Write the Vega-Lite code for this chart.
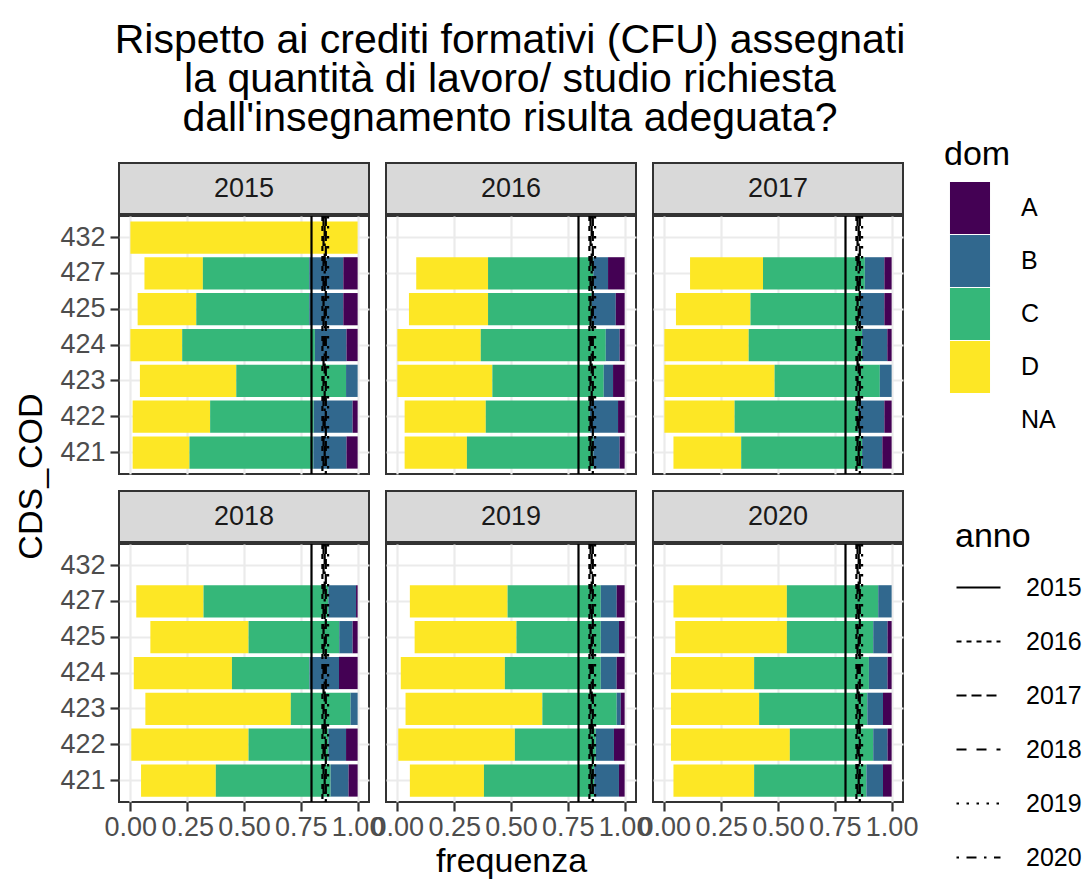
{
  "$schema": "https://vega.github.io/schema/vega-lite/v6.json",
  "padding": {"left": 14, "top": 20, "right": 3, "bottom": 0},
  "title": {
    "text": ["Rispetto ai crediti formativi (CFU) assegnati", "la quantità di lavoro/ studio richiesta", "dall'insegnamento risulta adeguata?"],
    "fontSize": 41, "fontWeight": "normal", "color": "black", "anchor": "start", "align": "center", "dx": 496, "frame": "group", "lineHeight": 39, "offset": -2
  },
  "datasets": {
    "soglie": [
      {"anno": "2015", "soglia": 0.797},
      {"anno": "2016", "soglia": 0.845},
      {"anno": "2017", "soglia": 0.86},
      {"anno": "2018", "soglia": 0.85},
      {"anno": "2019", "soglia": 0.87},
      {"anno": "2020", "soglia": 0.855}
    ],
    "bars": [
      {"anno": "2015", "CDS_COD": "432", "dom": "D", "frequenza": 1.0},
      {"anno": "2015", "CDS_COD": "427", "dom": "NA", "frequenza": 0.062},
      {"anno": "2015", "CDS_COD": "427", "dom": "D", "frequenza": 0.257},
      {"anno": "2015", "CDS_COD": "427", "dom": "C", "frequenza": 0.468},
      {"anno": "2015", "CDS_COD": "427", "dom": "B", "frequenza": 0.150},
      {"anno": "2015", "CDS_COD": "427", "dom": "A", "frequenza": 0.063},
      {"anno": "2015", "CDS_COD": "425", "dom": "NA", "frequenza": 0.032},
      {"anno": "2015", "CDS_COD": "425", "dom": "D", "frequenza": 0.258},
      {"anno": "2015", "CDS_COD": "425", "dom": "C", "frequenza": 0.497},
      {"anno": "2015", "CDS_COD": "425", "dom": "B", "frequenza": 0.150},
      {"anno": "2015", "CDS_COD": "425", "dom": "A", "frequenza": 0.063},
      {"anno": "2015", "CDS_COD": "424", "dom": "D", "frequenza": 0.228},
      {"anno": "2015", "CDS_COD": "424", "dom": "C", "frequenza": 0.584},
      {"anno": "2015", "CDS_COD": "424", "dom": "B", "frequenza": 0.139},
      {"anno": "2015", "CDS_COD": "424", "dom": "A", "frequenza": 0.049},
      {"anno": "2015", "CDS_COD": "423", "dom": "NA", "frequenza": 0.042},
      {"anno": "2015", "CDS_COD": "423", "dom": "D", "frequenza": 0.424},
      {"anno": "2015", "CDS_COD": "423", "dom": "C", "frequenza": 0.483},
      {"anno": "2015", "CDS_COD": "423", "dom": "B", "frequenza": 0.051},
      {"anno": "2015", "CDS_COD": "422", "dom": "NA", "frequenza": 0.010},
      {"anno": "2015", "CDS_COD": "422", "dom": "D", "frequenza": 0.341},
      {"anno": "2015", "CDS_COD": "422", "dom": "C", "frequenza": 0.456},
      {"anno": "2015", "CDS_COD": "422", "dom": "B", "frequenza": 0.171},
      {"anno": "2015", "CDS_COD": "422", "dom": "A", "frequenza": 0.022},
      {"anno": "2015", "CDS_COD": "421", "dom": "NA", "frequenza": 0.010},
      {"anno": "2015", "CDS_COD": "421", "dom": "D", "frequenza": 0.250},
      {"anno": "2015", "CDS_COD": "421", "dom": "C", "frequenza": 0.545},
      {"anno": "2015", "CDS_COD": "421", "dom": "B", "frequenza": 0.146},
      {"anno": "2015", "CDS_COD": "421", "dom": "A", "frequenza": 0.049},

      {"anno": "2016", "CDS_COD": "427", "dom": "NA", "frequenza": 0.083},
      {"anno": "2016", "CDS_COD": "427", "dom": "D", "frequenza": 0.316},
      {"anno": "2016", "CDS_COD": "427", "dom": "C", "frequenza": 0.463},
      {"anno": "2016", "CDS_COD": "427", "dom": "B", "frequenza": 0.065},
      {"anno": "2016", "CDS_COD": "427", "dom": "A", "frequenza": 0.073},
      {"anno": "2016", "CDS_COD": "425", "dom": "NA", "frequenza": 0.051},
      {"anno": "2016", "CDS_COD": "425", "dom": "D", "frequenza": 0.348},
      {"anno": "2016", "CDS_COD": "425", "dom": "C", "frequenza": 0.456},
      {"anno": "2016", "CDS_COD": "425", "dom": "B", "frequenza": 0.106},
      {"anno": "2016", "CDS_COD": "425", "dom": "A", "frequenza": 0.039},
      {"anno": "2016", "CDS_COD": "424", "dom": "D", "frequenza": 0.367},
      {"anno": "2016", "CDS_COD": "424", "dom": "C", "frequenza": 0.550},
      {"anno": "2016", "CDS_COD": "424", "dom": "B", "frequenza": 0.061},
      {"anno": "2016", "CDS_COD": "424", "dom": "A", "frequenza": 0.022},
      {"anno": "2016", "CDS_COD": "423", "dom": "D", "frequenza": 0.418},
      {"anno": "2016", "CDS_COD": "423", "dom": "C", "frequenza": 0.490},
      {"anno": "2016", "CDS_COD": "423", "dom": "B", "frequenza": 0.041},
      {"anno": "2016", "CDS_COD": "423", "dom": "A", "frequenza": 0.051},
      {"anno": "2016", "CDS_COD": "422", "dom": "NA", "frequenza": 0.032},
      {"anno": "2016", "CDS_COD": "422", "dom": "D", "frequenza": 0.357},
      {"anno": "2016", "CDS_COD": "422", "dom": "C", "frequenza": 0.458},
      {"anno": "2016", "CDS_COD": "422", "dom": "B", "frequenza": 0.124},
      {"anno": "2016", "CDS_COD": "422", "dom": "A", "frequenza": 0.029},
      {"anno": "2016", "CDS_COD": "421", "dom": "NA", "frequenza": 0.032},
      {"anno": "2016", "CDS_COD": "421", "dom": "D", "frequenza": 0.274},
      {"anno": "2016", "CDS_COD": "421", "dom": "C", "frequenza": 0.556},
      {"anno": "2016", "CDS_COD": "421", "dom": "B", "frequenza": 0.116},
      {"anno": "2016", "CDS_COD": "421", "dom": "A", "frequenza": 0.022},

      {"anno": "2017", "CDS_COD": "427", "dom": "NA", "frequenza": 0.113},
      {"anno": "2017", "CDS_COD": "427", "dom": "D", "frequenza": 0.321},
      {"anno": "2017", "CDS_COD": "427", "dom": "C", "frequenza": 0.448},
      {"anno": "2017", "CDS_COD": "427", "dom": "B", "frequenza": 0.086},
      {"anno": "2017", "CDS_COD": "427", "dom": "A", "frequenza": 0.032},
      {"anno": "2017", "CDS_COD": "425", "dom": "NA", "frequenza": 0.051},
      {"anno": "2017", "CDS_COD": "425", "dom": "D", "frequenza": 0.328},
      {"anno": "2017", "CDS_COD": "425", "dom": "C", "frequenza": 0.481},
      {"anno": "2017", "CDS_COD": "425", "dom": "B", "frequenza": 0.108},
      {"anno": "2017", "CDS_COD": "425", "dom": "A", "frequenza": 0.032},
      {"anno": "2017", "CDS_COD": "424", "dom": "D", "frequenza": 0.371},
      {"anno": "2017", "CDS_COD": "424", "dom": "C", "frequenza": 0.499},
      {"anno": "2017", "CDS_COD": "424", "dom": "B", "frequenza": 0.111},
      {"anno": "2017", "CDS_COD": "424", "dom": "A", "frequenza": 0.019},
      {"anno": "2017", "CDS_COD": "423", "dom": "D", "frequenza": 0.485},
      {"anno": "2017", "CDS_COD": "423", "dom": "C", "frequenza": 0.463},
      {"anno": "2017", "CDS_COD": "423", "dom": "B", "frequenza": 0.052},
      {"anno": "2017", "CDS_COD": "422", "dom": "D", "frequenza": 0.309},
      {"anno": "2017", "CDS_COD": "422", "dom": "C", "frequenza": 0.544},
      {"anno": "2017", "CDS_COD": "422", "dom": "B", "frequenza": 0.115},
      {"anno": "2017", "CDS_COD": "422", "dom": "A", "frequenza": 0.032},
      {"anno": "2017", "CDS_COD": "421", "dom": "NA", "frequenza": 0.040},
      {"anno": "2017", "CDS_COD": "421", "dom": "D", "frequenza": 0.298},
      {"anno": "2017", "CDS_COD": "421", "dom": "C", "frequenza": 0.532},
      {"anno": "2017", "CDS_COD": "421", "dom": "B", "frequenza": 0.089},
      {"anno": "2017", "CDS_COD": "421", "dom": "A", "frequenza": 0.041},

      {"anno": "2018", "CDS_COD": "427", "dom": "NA", "frequenza": 0.026},
      {"anno": "2018", "CDS_COD": "427", "dom": "D", "frequenza": 0.296},
      {"anno": "2018", "CDS_COD": "427", "dom": "C", "frequenza": 0.549},
      {"anno": "2018", "CDS_COD": "427", "dom": "B", "frequenza": 0.122},
      {"anno": "2018", "CDS_COD": "427", "dom": "A", "frequenza": 0.007},
      {"anno": "2018", "CDS_COD": "425", "dom": "NA", "frequenza": 0.088},
      {"anno": "2018", "CDS_COD": "425", "dom": "D", "frequenza": 0.432},
      {"anno": "2018", "CDS_COD": "425", "dom": "C", "frequenza": 0.399},
      {"anno": "2018", "CDS_COD": "425", "dom": "B", "frequenza": 0.059},
      {"anno": "2018", "CDS_COD": "425", "dom": "A", "frequenza": 0.022},
      {"anno": "2018", "CDS_COD": "424", "dom": "NA", "frequenza": 0.015},
      {"anno": "2018", "CDS_COD": "424", "dom": "D", "frequenza": 0.432},
      {"anno": "2018", "CDS_COD": "424", "dom": "C", "frequenza": 0.341},
      {"anno": "2018", "CDS_COD": "424", "dom": "B", "frequenza": 0.130},
      {"anno": "2018", "CDS_COD": "424", "dom": "A", "frequenza": 0.082},
      {"anno": "2018", "CDS_COD": "423", "dom": "NA", "frequenza": 0.066},
      {"anno": "2018", "CDS_COD": "423", "dom": "D", "frequenza": 0.640},
      {"anno": "2018", "CDS_COD": "423", "dom": "C", "frequenza": 0.263},
      {"anno": "2018", "CDS_COD": "423", "dom": "B", "frequenza": 0.031},
      {"anno": "2018", "CDS_COD": "422", "dom": "NA", "frequenza": 0.004},
      {"anno": "2018", "CDS_COD": "422", "dom": "D", "frequenza": 0.516},
      {"anno": "2018", "CDS_COD": "422", "dom": "C", "frequenza": 0.351},
      {"anno": "2018", "CDS_COD": "422", "dom": "B", "frequenza": 0.078},
      {"anno": "2018", "CDS_COD": "422", "dom": "A", "frequenza": 0.051},
      {"anno": "2018", "CDS_COD": "421", "dom": "NA", "frequenza": 0.047},
      {"anno": "2018", "CDS_COD": "421", "dom": "D", "frequenza": 0.329},
      {"anno": "2018", "CDS_COD": "421", "dom": "C", "frequenza": 0.505},
      {"anno": "2018", "CDS_COD": "421", "dom": "B", "frequenza": 0.079},
      {"anno": "2018", "CDS_COD": "421", "dom": "A", "frequenza": 0.040},

      {"anno": "2019", "CDS_COD": "427", "dom": "NA", "frequenza": 0.055},
      {"anno": "2019", "CDS_COD": "427", "dom": "D", "frequenza": 0.430},
      {"anno": "2019", "CDS_COD": "427", "dom": "C", "frequenza": 0.410},
      {"anno": "2019", "CDS_COD": "427", "dom": "B", "frequenza": 0.070},
      {"anno": "2019", "CDS_COD": "427", "dom": "A", "frequenza": 0.035},
      {"anno": "2019", "CDS_COD": "425", "dom": "NA", "frequenza": 0.076},
      {"anno": "2019", "CDS_COD": "425", "dom": "D", "frequenza": 0.448},
      {"anno": "2019", "CDS_COD": "425", "dom": "C", "frequenza": 0.371},
      {"anno": "2019", "CDS_COD": "425", "dom": "B", "frequenza": 0.080},
      {"anno": "2019", "CDS_COD": "425", "dom": "A", "frequenza": 0.025},
      {"anno": "2019", "CDS_COD": "424", "dom": "NA", "frequenza": 0.015},
      {"anno": "2019", "CDS_COD": "424", "dom": "D", "frequenza": 0.458},
      {"anno": "2019", "CDS_COD": "424", "dom": "C", "frequenza": 0.422},
      {"anno": "2019", "CDS_COD": "424", "dom": "B", "frequenza": 0.070},
      {"anno": "2019", "CDS_COD": "424", "dom": "A", "frequenza": 0.035},
      {"anno": "2019", "CDS_COD": "423", "dom": "NA", "frequenza": 0.036},
      {"anno": "2019", "CDS_COD": "423", "dom": "D", "frequenza": 0.602},
      {"anno": "2019", "CDS_COD": "423", "dom": "C", "frequenza": 0.327},
      {"anno": "2019", "CDS_COD": "423", "dom": "B", "frequenza": 0.018},
      {"anno": "2019", "CDS_COD": "423", "dom": "A", "frequenza": 0.017},
      {"anno": "2019", "CDS_COD": "422", "dom": "NA", "frequenza": 0.004},
      {"anno": "2019", "CDS_COD": "422", "dom": "D", "frequenza": 0.513},
      {"anno": "2019", "CDS_COD": "422", "dom": "C", "frequenza": 0.356},
      {"anno": "2019", "CDS_COD": "422", "dom": "B", "frequenza": 0.080},
      {"anno": "2019", "CDS_COD": "422", "dom": "A", "frequenza": 0.047},
      {"anno": "2019", "CDS_COD": "421", "dom": "NA", "frequenza": 0.055},
      {"anno": "2019", "CDS_COD": "421", "dom": "D", "frequenza": 0.326},
      {"anno": "2019", "CDS_COD": "421", "dom": "C", "frequenza": 0.485},
      {"anno": "2019", "CDS_COD": "421", "dom": "B", "frequenza": 0.109},
      {"anno": "2019", "CDS_COD": "421", "dom": "A", "frequenza": 0.025},

      {"anno": "2020", "CDS_COD": "427", "dom": "NA", "frequenza": 0.040},
      {"anno": "2020", "CDS_COD": "427", "dom": "D", "frequenza": 0.499},
      {"anno": "2020", "CDS_COD": "427", "dom": "C", "frequenza": 0.402},
      {"anno": "2020", "CDS_COD": "427", "dom": "B", "frequenza": 0.059},
      {"anno": "2020", "CDS_COD": "425", "dom": "NA", "frequenza": 0.048},
      {"anno": "2020", "CDS_COD": "425", "dom": "D", "frequenza": 0.491},
      {"anno": "2020", "CDS_COD": "425", "dom": "C", "frequenza": 0.380},
      {"anno": "2020", "CDS_COD": "425", "dom": "B", "frequenza": 0.063},
      {"anno": "2020", "CDS_COD": "425", "dom": "A", "frequenza": 0.018},
      {"anno": "2020", "CDS_COD": "424", "dom": "NA", "frequenza": 0.029},
      {"anno": "2020", "CDS_COD": "424", "dom": "D", "frequenza": 0.366},
      {"anno": "2020", "CDS_COD": "424", "dom": "C", "frequenza": 0.505},
      {"anno": "2020", "CDS_COD": "424", "dom": "B", "frequenza": 0.082},
      {"anno": "2020", "CDS_COD": "424", "dom": "A", "frequenza": 0.018},
      {"anno": "2020", "CDS_COD": "423", "dom": "NA", "frequenza": 0.029},
      {"anno": "2020", "CDS_COD": "423", "dom": "D", "frequenza": 0.388},
      {"anno": "2020", "CDS_COD": "423", "dom": "C", "frequenza": 0.476},
      {"anno": "2020", "CDS_COD": "423", "dom": "B", "frequenza": 0.069},
      {"anno": "2020", "CDS_COD": "423", "dom": "A", "frequenza": 0.038},
      {"anno": "2020", "CDS_COD": "422", "dom": "NA", "frequenza": 0.029},
      {"anno": "2020", "CDS_COD": "422", "dom": "D", "frequenza": 0.523},
      {"anno": "2020", "CDS_COD": "422", "dom": "C", "frequenza": 0.367},
      {"anno": "2020", "CDS_COD": "422", "dom": "B", "frequenza": 0.063},
      {"anno": "2020", "CDS_COD": "422", "dom": "A", "frequenza": 0.018},
      {"anno": "2020", "CDS_COD": "421", "dom": "NA", "frequenza": 0.040},
      {"anno": "2020", "CDS_COD": "421", "dom": "D", "frequenza": 0.355},
      {"anno": "2020", "CDS_COD": "421", "dom": "C", "frequenza": 0.494},
      {"anno": "2020", "CDS_COD": "421", "dom": "B", "frequenza": 0.073},
      {"anno": "2020", "CDS_COD": "421", "dom": "A", "frequenza": 0.038}
    ]
  },
  "spacing": 8,
  "hconcat": [
    {"width": 36, "height": 627, "view": {"stroke": null},
     "data": {"values": [{"titolo": "CDS_COD"}]},
     "mark": {"type": "text", "angle": 270, "fontSize": 34, "color": "black"},
     "encoding": {"text": {"field": "titolo"}}},
    {
  "spacing": 13,
  "vconcat": [
    {
      "spacing": -2,
      "vconcat": [
        {"bounds": "flush", "spacing": 17, "hconcat": [
          {"width": 250, "height": 51, "view": {"fill": "#d9d9d9", "stroke": "#333333", "strokeWidth": 2},
           "data": {"name": "soglie"}, "transform": [{"filter": "datum.anno == '2015'"}],
           "mark": {"type": "text", "fontSize": 27, "color": "#1a1a1a"}, "encoding": {"text": {"field": "anno"}}},
          {"width": 250, "height": 51, "view": {"fill": "#d9d9d9", "stroke": "#333333", "strokeWidth": 2},
           "data": {"name": "soglie"}, "transform": [{"filter": "datum.anno == '2016'"}],
           "mark": {"type": "text", "fontSize": 27, "color": "#1a1a1a"}, "encoding": {"text": {"field": "anno"}}},
          {"width": 250, "height": 51, "view": {"fill": "#d9d9d9", "stroke": "#333333", "strokeWidth": 2},
           "data": {"name": "soglie"}, "transform": [{"filter": "datum.anno == '2017'"}],
           "mark": {"type": "text", "fontSize": 27, "color": "#1a1a1a"}, "encoding": {"text": {"field": "anno"}}}
        ]},
        {"bounds": "flush", "spacing": 17, "hconcat": [
            {"width": 250, "height": 258,
             "layer": [
               {"data": {"name": "bars"}, "transform": [{"filter": "datum.anno == '2015'"}],
                "mark": {"type": "bar"},
                "encoding": {
                  "y": {"field": "CDS_COD", "type": "nominal", "scale": {"domain": ["432","427","425","424","423","422","421"], "paddingInner": 0.1, "paddingOuter": 0.15},
                        "axis": {"title": null, "bandPosition": 0.5, "grid": true, "gridWidth": 2.2, "labelPadding": 5}},
                  "x": {"field": "frequenza", "type": "quantitative", "stack": "zero", "scale": {"domain": [-0.05, 1.05], "nice": false, "zero": false},
                        "axis": {"title": null, "values": [0,0.125,0.25,0.375,0.5,0.625,0.75,0.875,1], "labels": false, "ticks": false, "grid": true,
                                 "gridWidth": {"condition": {"test": "round(datum.value*8)%2==0", "value": 2.2}, "value": 1.1}}},
                  "fill": {"field": "dom", "type": "nominal", "scale": {"domain": ["A","B","C","D","NA"], "range": ["#440154","#31688e","#35b779","#fde725","transparent"]},
                           "legend": {"title": "dom", "orient": "none", "legendX": 930, "legendY": -25, "symbolType": "M-0.77,-1H0.77V1H-0.77Z", "symbolSize": 2704, "symbolStrokeWidth": 0, "rowPadding": 1, "labelOffset": 25, "titlePadding": 10}},
                  "order": {"field": "dom", "sort": "descending"}
                }},
               {"data": {"name": "soglie"}, "mark": {"type": "rule", "color": "black", "strokeWidth": 2.2},
                "encoding": {
                  "x": {"field": "soglia", "type": "quantitative"},
                  "strokeDash": {"field": "anno", "type": "nominal", "scale": {"domain": ["2015","2016","2017","2018","2019","2020"], "range": [[1,0],[5,5],[10,5],[10,10],[2.5,7.5],[2.5,7.5,10,7.5]]},
                                 "legend": {"title": "anno", "orient": "none", "legendX": 941, "legendY": 357, "symbolType": "stroke", "symbolSize": 1936, "symbolStrokeWidth": 2.2, "symbolStrokeColor": "black", "rowPadding": 17, "labelOffset": 24, "titlePadding": 10}}
                }}
             ]},
            {"width": 250, "height": 258,
             "layer": [
               {"data": {"name": "bars"}, "transform": [{"filter": "datum.anno == '2016'"}],
                "mark": {"type": "bar"},
                "encoding": {
                  "y": {"field": "CDS_COD", "type": "nominal", "scale": {"domain": ["432","427","425","424","423","422","421"], "paddingInner": 0.1, "paddingOuter": 0.15},
                        "axis": {"title": null, "bandPosition": 0.5, "grid": true, "gridWidth": 2.2, "labels": false, "ticks": false}},
                  "x": {"field": "frequenza", "type": "quantitative", "stack": "zero", "scale": {"domain": [-0.05, 1.05], "nice": false, "zero": false},
                        "axis": {"title": null, "values": [0,0.125,0.25,0.375,0.5,0.625,0.75,0.875,1], "labels": false, "ticks": false, "grid": true,
                                 "gridWidth": {"condition": {"test": "round(datum.value*8)%2==0", "value": 2.2}, "value": 1.1}}},
                  "fill": {"field": "dom", "type": "nominal", "scale": {"domain": ["A","B","C","D","NA"], "range": ["#440154","#31688e","#35b779","#fde725","transparent"]},
                           "legend": {"title": "dom", "orient": "none", "legendX": 930, "legendY": -25, "symbolType": "M-0.77,-1H0.77V1H-0.77Z", "symbolSize": 2704, "symbolStrokeWidth": 0, "rowPadding": 1, "labelOffset": 25, "titlePadding": 10}},
                  "order": {"field": "dom", "sort": "descending"}
                }},
               {"data": {"name": "soglie"}, "mark": {"type": "rule", "color": "black", "strokeWidth": 2.2},
                "encoding": {
                  "x": {"field": "soglia", "type": "quantitative"},
                  "strokeDash": {"field": "anno", "type": "nominal", "scale": {"domain": ["2015","2016","2017","2018","2019","2020"], "range": [[1,0],[5,5],[10,5],[10,10],[2.5,7.5],[2.5,7.5,10,7.5]]},
                                 "legend": {"title": "anno", "orient": "none", "legendX": 941, "legendY": 357, "symbolType": "stroke", "symbolSize": 1936, "symbolStrokeWidth": 2.2, "symbolStrokeColor": "black", "rowPadding": 17, "labelOffset": 24, "titlePadding": 10}}
                }}
             ]},
            {"width": 250, "height": 258,
             "layer": [
               {"data": {"name": "bars"}, "transform": [{"filter": "datum.anno == '2017'"}],
                "mark": {"type": "bar"},
                "encoding": {
                  "y": {"field": "CDS_COD", "type": "nominal", "scale": {"domain": ["432","427","425","424","423","422","421"], "paddingInner": 0.1, "paddingOuter": 0.15},
                        "axis": {"title": null, "bandPosition": 0.5, "grid": true, "gridWidth": 2.2, "labels": false, "ticks": false}},
                  "x": {"field": "frequenza", "type": "quantitative", "stack": "zero", "scale": {"domain": [-0.05, 1.05], "nice": false, "zero": false},
                        "axis": {"title": null, "values": [0,0.125,0.25,0.375,0.5,0.625,0.75,0.875,1], "labels": false, "ticks": false, "grid": true,
                                 "gridWidth": {"condition": {"test": "round(datum.value*8)%2==0", "value": 2.2}, "value": 1.1}}},
                  "fill": {"field": "dom", "type": "nominal", "scale": {"domain": ["A","B","C","D","NA"], "range": ["#440154","#31688e","#35b779","#fde725","transparent"]},
                           "legend": {"title": "dom", "orient": "none", "legendX": 930, "legendY": -25, "symbolType": "M-0.77,-1H0.77V1H-0.77Z", "symbolSize": 2704, "symbolStrokeWidth": 0, "rowPadding": 1, "labelOffset": 25, "titlePadding": 10}},
                  "order": {"field": "dom", "sort": "descending"}
                }},
               {"data": {"name": "soglie"}, "mark": {"type": "rule", "color": "black", "strokeWidth": 2.2},
                "encoding": {
                  "x": {"field": "soglia", "type": "quantitative"},
                  "strokeDash": {"field": "anno", "type": "nominal", "scale": {"domain": ["2015","2016","2017","2018","2019","2020"], "range": [[1,0],[5,5],[10,5],[10,10],[2.5,7.5],[2.5,7.5,10,7.5]]},
                                 "legend": {"title": "anno", "orient": "none", "legendX": 941, "legendY": 357, "symbolType": "stroke", "symbolSize": 1936, "symbolStrokeWidth": 2.2, "symbolStrokeColor": "black", "rowPadding": 17, "labelOffset": 24, "titlePadding": 10}}
                }}
             ]}
        ]}
      ]
    },
    {
      "spacing": -2,
      "vconcat": [
        {"bounds": "flush", "spacing": 17, "hconcat": [
          {"width": 250, "height": 51, "view": {"fill": "#d9d9d9", "stroke": "#333333", "strokeWidth": 2},
           "data": {"name": "soglie"}, "transform": [{"filter": "datum.anno == '2018'"}],
           "mark": {"type": "text", "fontSize": 27, "color": "#1a1a1a"}, "encoding": {"text": {"field": "anno"}}},
          {"width": 250, "height": 51, "view": {"fill": "#d9d9d9", "stroke": "#333333", "strokeWidth": 2},
           "data": {"name": "soglie"}, "transform": [{"filter": "datum.anno == '2019'"}],
           "mark": {"type": "text", "fontSize": 27, "color": "#1a1a1a"}, "encoding": {"text": {"field": "anno"}}},
          {"width": 250, "height": 51, "view": {"fill": "#d9d9d9", "stroke": "#333333", "strokeWidth": 2},
           "data": {"name": "soglie"}, "transform": [{"filter": "datum.anno == '2020'"}],
           "mark": {"type": "text", "fontSize": 27, "color": "#1a1a1a"}, "encoding": {"text": {"field": "anno"}}}
        ]},
        {"bounds": "flush", "spacing": 17, "hconcat": [
            {"width": 250, "height": 258,
             "layer": [
               {"data": {"name": "bars"}, "transform": [{"filter": "datum.anno == '2018'"}],
                "mark": {"type": "bar"},
                "encoding": {
                  "y": {"field": "CDS_COD", "type": "nominal", "scale": {"domain": ["432","427","425","424","423","422","421"], "paddingInner": 0.1, "paddingOuter": 0.15},
                        "axis": {"title": null, "bandPosition": 0.5, "grid": true, "gridWidth": 2.2, "labelPadding": 5}},
                  "x": {"field": "frequenza", "type": "quantitative", "stack": "zero", "scale": {"domain": [-0.05, 1.05], "nice": false, "zero": false},
                        "axis": {"title": null, "values": [0,0.125,0.25,0.375,0.5,0.625,0.75,0.875,1], "grid": true, "labelOverlap": false, "labelFlush": false, "labelPadding": 3,
                                 "labelExpr": "round(datum.value*8)%2==0 ? format(datum.value, '.2f') : ''",
                                 "tickOpacity": {"condition": {"test": "round(datum.value*8)%2==0", "value": 1}, "value": 0},
                                 "gridWidth": {"condition": {"test": "round(datum.value*8)%2==0", "value": 2.2}, "value": 1.1}}},
                  "fill": {"field": "dom", "type": "nominal", "scale": {"domain": ["A","B","C","D","NA"], "range": ["#440154","#31688e","#35b779","#fde725","transparent"]},
                           "legend": {"title": "dom", "orient": "none", "legendX": 930, "legendY": -25, "symbolType": "M-0.77,-1H0.77V1H-0.77Z", "symbolSize": 2704, "symbolStrokeWidth": 0, "rowPadding": 1, "labelOffset": 25, "titlePadding": 10}},
                  "order": {"field": "dom", "sort": "descending"}
                }},
               {"data": {"name": "soglie"}, "mark": {"type": "rule", "color": "black", "strokeWidth": 2.2},
                "encoding": {
                  "x": {"field": "soglia", "type": "quantitative"},
                  "strokeDash": {"field": "anno", "type": "nominal", "scale": {"domain": ["2015","2016","2017","2018","2019","2020"], "range": [[1,0],[5,5],[10,5],[10,10],[2.5,7.5],[2.5,7.5,10,7.5]]},
                                 "legend": {"title": "anno", "orient": "none", "legendX": 941, "legendY": 357, "symbolType": "stroke", "symbolSize": 1936, "symbolStrokeWidth": 2.2, "symbolStrokeColor": "black", "rowPadding": 17, "labelOffset": 24, "titlePadding": 10}}
                }}
             ]},
            {"width": 250, "height": 258,
             "layer": [
               {"data": {"name": "bars"}, "transform": [{"filter": "datum.anno == '2019'"}],
                "mark": {"type": "bar"},
                "encoding": {
                  "y": {"field": "CDS_COD", "type": "nominal", "scale": {"domain": ["432","427","425","424","423","422","421"], "paddingInner": 0.1, "paddingOuter": 0.15},
                        "axis": {"title": null, "bandPosition": 0.5, "grid": true, "gridWidth": 2.2, "labels": false, "ticks": false}},
                  "x": {"field": "frequenza", "type": "quantitative", "stack": "zero", "scale": {"domain": [-0.05, 1.05], "nice": false, "zero": false},
                        "axis": {"title": "frequenza", "titlePadding": 4, "values": [0,0.125,0.25,0.375,0.5,0.625,0.75,0.875,1], "grid": true, "labelOverlap": false, "labelFlush": false, "labelPadding": 3,
                                 "labelExpr": "round(datum.value*8)%2==0 ? format(datum.value, '.2f') : ''",
                                 "tickOpacity": {"condition": {"test": "round(datum.value*8)%2==0", "value": 1}, "value": 0},
                                 "gridWidth": {"condition": {"test": "round(datum.value*8)%2==0", "value": 2.2}, "value": 1.1}}},
                  "fill": {"field": "dom", "type": "nominal", "scale": {"domain": ["A","B","C","D","NA"], "range": ["#440154","#31688e","#35b779","#fde725","transparent"]},
                           "legend": {"title": "dom", "orient": "none", "legendX": 930, "legendY": -25, "symbolType": "M-0.77,-1H0.77V1H-0.77Z", "symbolSize": 2704, "symbolStrokeWidth": 0, "rowPadding": 1, "labelOffset": 25, "titlePadding": 10}},
                  "order": {"field": "dom", "sort": "descending"}
                }},
               {"data": {"name": "soglie"}, "mark": {"type": "rule", "color": "black", "strokeWidth": 2.2},
                "encoding": {
                  "x": {"field": "soglia", "type": "quantitative"},
                  "strokeDash": {"field": "anno", "type": "nominal", "scale": {"domain": ["2015","2016","2017","2018","2019","2020"], "range": [[1,0],[5,5],[10,5],[10,10],[2.5,7.5],[2.5,7.5,10,7.5]]},
                                 "legend": {"title": "anno", "orient": "none", "legendX": 941, "legendY": 357, "symbolType": "stroke", "symbolSize": 1936, "symbolStrokeWidth": 2.2, "symbolStrokeColor": "black", "rowPadding": 17, "labelOffset": 24, "titlePadding": 10}}
                }}
             ]},
            {"width": 250, "height": 258,
             "layer": [
               {"data": {"name": "bars"}, "transform": [{"filter": "datum.anno == '2020'"}],
                "mark": {"type": "bar"},
                "encoding": {
                  "y": {"field": "CDS_COD", "type": "nominal", "scale": {"domain": ["432","427","425","424","423","422","421"], "paddingInner": 0.1, "paddingOuter": 0.15},
                        "axis": {"title": null, "bandPosition": 0.5, "grid": true, "gridWidth": 2.2, "labels": false, "ticks": false}},
                  "x": {"field": "frequenza", "type": "quantitative", "stack": "zero", "scale": {"domain": [-0.05, 1.05], "nice": false, "zero": false},
                        "axis": {"title": null, "values": [0,0.125,0.25,0.375,0.5,0.625,0.75,0.875,1], "grid": true, "labelOverlap": false, "labelFlush": false, "labelPadding": 3,
                                 "labelExpr": "round(datum.value*8)%2==0 ? format(datum.value, '.2f') : ''",
                                 "tickOpacity": {"condition": {"test": "round(datum.value*8)%2==0", "value": 1}, "value": 0},
                                 "gridWidth": {"condition": {"test": "round(datum.value*8)%2==0", "value": 2.2}, "value": 1.1}}},
                  "fill": {"field": "dom", "type": "nominal", "scale": {"domain": ["A","B","C","D","NA"], "range": ["#440154","#31688e","#35b779","#fde725","transparent"]},
                           "legend": {"title": "dom", "orient": "none", "legendX": 930, "legendY": -25, "symbolType": "M-0.77,-1H0.77V1H-0.77Z", "symbolSize": 2704, "symbolStrokeWidth": 0, "rowPadding": 1, "labelOffset": 25, "titlePadding": 10}},
                  "order": {"field": "dom", "sort": "descending"}
                }},
               {"data": {"name": "soglie"}, "mark": {"type": "rule", "color": "black", "strokeWidth": 2.2},
                "encoding": {
                  "x": {"field": "soglia", "type": "quantitative"},
                  "strokeDash": {"field": "anno", "type": "nominal", "scale": {"domain": ["2015","2016","2017","2018","2019","2020"], "range": [[1,0],[5,5],[10,5],[10,10],[2.5,7.5],[2.5,7.5,10,7.5]]},
                                 "legend": {"title": "anno", "orient": "none", "legendX": 941, "legendY": 357, "symbolType": "stroke", "symbolSize": 1936, "symbolStrokeWidth": 2.2, "symbolStrokeColor": "black", "rowPadding": 17, "labelOffset": 24, "titlePadding": 10}}
                }}
             ]}
        ]}
      ]
    }
  ]
    }
  ],
  "config": {
    "font": "Liberation Sans",
    "view": {"stroke": "#333333", "strokeWidth": 2},
    "axis": {"labelFont": "Liberation Sans", "labelFontSize": 27, "labelColor": "#4d4d4d", "tickColor": "#333333", "tickSize": 9, "tickWidth": 2.2,
             "domain": false, "gridColor": "#ebebeb", "titleFont": "Liberation Sans", "titleFontSize": 34, "titleFontWeight": "normal", "titleColor": "black"},
    "legend": {"labelFont": "Liberation Sans", "labelFontSize": 25, "labelColor": "black", "titleFont": "Liberation Sans", "titleFontSize": 34, "titleFontWeight": "normal", "titleColor": "black"},
    "title": {"font": "Liberation Sans"}
  }
}
